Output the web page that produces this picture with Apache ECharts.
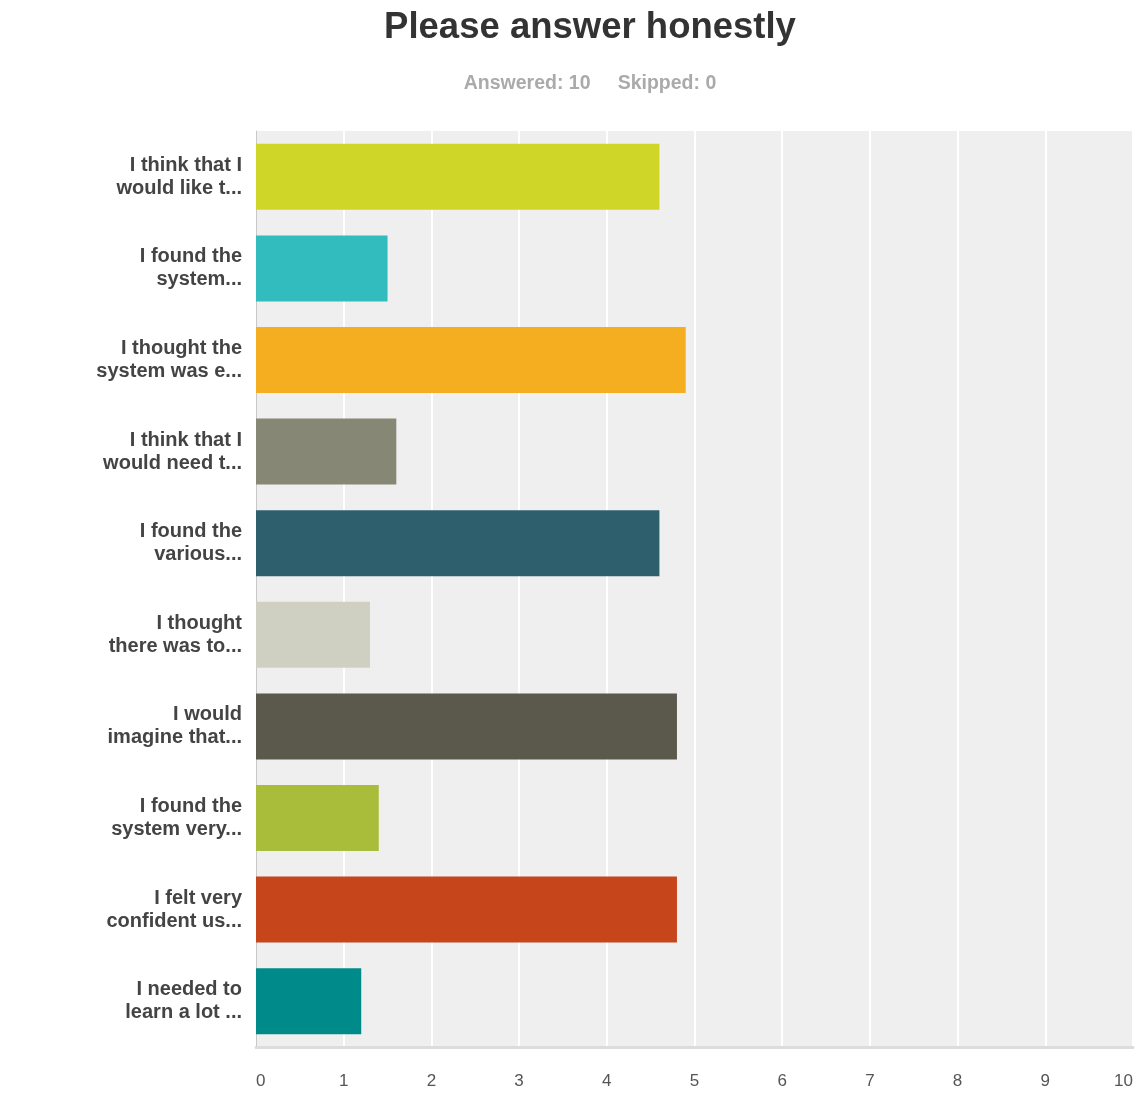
<!DOCTYPE html>
<html><head><meta charset="utf-8">
<script src="https://cdn.jsdelivr.net/npm/echarts@6/dist/echarts.min.js"></script>
<style>html,body{margin:0;padding:0;background:#fff}#c{width:1141px;height:1111px}</style>
</head><body><div id="c"></div>
<script>
const categories = [
  "I think that I\nwould like t...",
  "I found the\nsystem...",
  "I thought the\nsystem was e...",
  "I think that I\nwould need t...",
  "I found the\nvarious...",
  "I thought\nthere was to...",
  "I would\nimagine that...",
  "I found the\nsystem very...",
  "I felt very\nconfident us...",
  "I needed to\nlearn a lot ..."
];
const values = [4.6, 1.5, 4.9, 1.6, 4.6, 1.3, 4.8, 1.4, 4.8, 1.2];
const colors = ["#cfd628","#33bcbe","#f5ae1f","#878776","#2d5f6c","#d0d0c2","#5a594b","#aabd3a","#c6451b","#008b8a"];
const titleText = "Please answer honestly";
const subtitleText = "Answered: 10     Skipped: 0";

const chart = echarts.init(document.getElementById('c'));
chart.setOption({
  animation: false,
  title: {
    text: titleText,
    subtext: subtitleText,
    left: 585, textAlign: 'center', top: 4,
    textStyle: {fontFamily: 'Liberation Sans', fontSize: 36.5, fontWeight: 'bold', color: '#333'},
    subtextStyle: {fontFamily: 'Liberation Sans', fontSize: 19.5, fontWeight: 'bold', color: '#aaa'},
    itemGap: 28
  },
  grid: {left: 256, right: 8, top: 131, bottom: 64, show: true, backgroundColor: '#efefef', borderWidth: 0},
  xAxis: {
    type: 'value', min: 0, max: 10, interval: 1,
    axisLine: {show: true, lineStyle: {color: '#dcdcdc', width: 3}},
    axisTick: {show: false},
    splitLine: {show: true, lineStyle: {color: '#ffffff', width: 2}},
    axisLabel: {margin: 26, fontFamily: 'Liberation Sans', fontSize: 17, color: '#555', alignMinLabel: 'left', alignMaxLabel: 'right'}
  },
  yAxis: {
    type: 'category', data: categories, inverse: true,
    axisLine: {show: true, lineStyle: {color: '#c8c8c8', width: 1}},
    axisTick: {show: false},
    axisLabel: {margin: 14, fontFamily: 'Liberation Sans', fontSize: 20, fontWeight: 'bold', color: '#444', lineHeight: 23, align: 'right'}
  },
  series: [{
    type: 'bar', data: values.map((v, i) => ({value: v, itemStyle: {color: colors[i]}})),
    barWidth: '72%'
  }]
});
</script></body></html>
